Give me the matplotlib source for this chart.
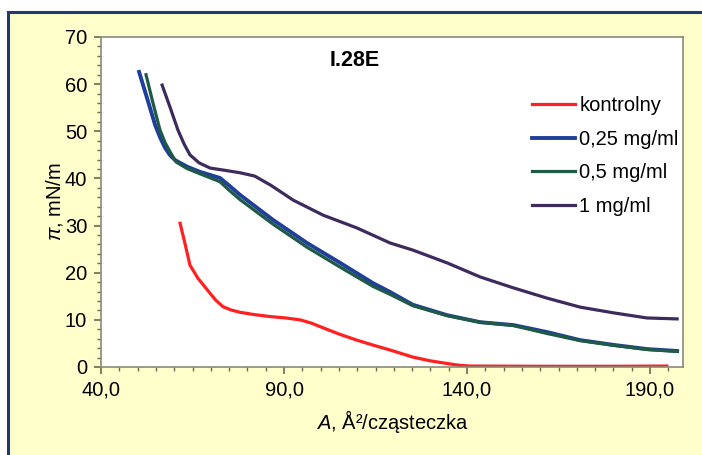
import matplotlib
matplotlib.use("Agg")
import matplotlib.pyplot as plt
from matplotlib.patches import Rectangle
from matplotlib.ticker import MultipleLocator

plt.rcParams['font.family'] = ['Liberation Sans', 'DejaVu Sans']
plt.rcParams['mathtext.fontset'] = 'custom'
plt.rcParams['mathtext.it'] = 'Liberation Sans:italic'

x_ticks = [40, 90, 140, 190]
x_ticklabels = ['40,0', '90,0', '140,0', '190,0']

# kontrolny
x_ctrl = [61.6, 63.0, 64.3, 66.5, 69.0, 71.2, 73.3, 75.5, 78.0, 82.0, 86.2, 90.5, 94.4, 97.5, 100.7,
          105.0, 109.9, 114.5, 119.0, 125.2, 130.0, 134.5, 138.0, 140.8, 160.0, 180.0, 194.6]
y_ctrl = [30.5, 26.0, 21.6, 18.8, 16.4, 14.3, 12.8, 12.1, 11.6, 11.1, 10.7, 10.4, 10.0, 9.3, 8.3,
          7.0, 5.7, 4.6, 3.6, 2.1, 1.3, 0.75, 0.35, 0.2, 0.15, 0.15, 0.2]

# 0,25 mg/ml
x_025 = [50.4, 52.6, 54.8, 56.2, 57.5, 58.8, 60.2, 63.5, 67.0, 72.5, 75.0, 78.0, 87.0, 96.3, 105.3,
         114.3, 119.0, 125.2, 134.5, 143.6, 152.6, 157.0, 161.9, 170.9, 179.9, 189.2, 197.4]
y_025 = [62.6, 57.0, 51.3, 48.6, 46.5, 45.0, 43.9, 42.5, 41.4, 40.1, 38.5, 36.5, 31.2, 26.3, 22.1,
         17.8, 15.9, 13.2, 11.0, 9.5, 8.9, 8.2, 7.4, 5.7, 4.7, 3.8, 3.4]

# 0,5 mg/ml
x_05 = [52.3, 54.2, 56.1, 57.5, 58.9, 60.5, 63.5, 67.0, 72.5, 75.0, 78.0, 87.0, 96.3, 105.3,
        114.3, 119.0, 125.2, 134.5, 143.6, 152.6, 157.0, 161.9, 170.9, 179.9, 189.2, 197.4]
y_05 = [62.0, 56.0, 50.3, 47.6, 45.6, 43.5, 42.1, 41.0, 39.3, 37.5, 35.5, 30.3, 25.4, 21.2,
        17.1, 15.4, 13.0, 10.9, 9.5, 8.8, 8.0, 7.1, 5.6, 4.6, 3.7, 3.3]

# 1 mg/ml
x_1 = [56.7, 59.0, 61.0, 62.7, 64.3, 66.8, 69.8, 74.0, 78.0, 82.0, 86.5, 92.5, 100.7, 109.9,
       119.0, 125.2, 134.5, 143.6, 152.6, 161.9, 170.9, 179.9, 189.2, 197.4]
y_1 = [59.8, 54.8, 50.3, 47.3, 45.0, 43.3, 42.2, 41.7, 41.2, 40.5, 38.5, 35.4, 32.2, 29.5,
       26.3, 24.8, 22.1, 19.1, 16.8, 14.6, 12.7, 11.5, 10.4, 10.2]

fig = plt.figure(figsize=(7.02, 4.55), dpi=100)
fig.patch.set_facecolor('white')

# yellow panel with blue frame
fig.patches.append(Rectangle((7.5 / 702, -0.05), 1.0, 0.05 + 1 - 12 / 455,
                             transform=fig.transFigure, facecolor='#ffffcc',
                             edgecolor='#1f3a6b', linewidth=2.2, zorder=-1))

ax = fig.add_axes([101 / 702, 1 - 367 / 455, 582 / 702, 330 / 455])
ax.set_facecolor('white')

ax.plot(x_ctrl, y_ctrl, color='#ff2020', lw=2.3, label='kontrolny')
ax.plot(x_025, y_025, color='#1f3f9a', lw=2.8, label='0,25 mg/ml')
ax.plot(x_05, y_05, color='#1e5a46', lw=2.3, label='0,5 mg/ml')
ax.plot(x_1, y_1, color='#3e2b5e', lw=2.3, label='1 mg/ml')

ax.set_xlim(40, 199)
ax.set_ylim(0, 70)
ax.set_xticks(x_ticks)
ax.set_xticklabels(x_ticklabels)
ax.xaxis.set_minor_locator(MultipleLocator(5))
ax.yaxis.set_major_locator(MultipleLocator(10))
ax.yaxis.set_minor_locator(MultipleLocator(2))

for s in ax.spines.values():
    s.set_color('#8a8a7a')
    s.set_linewidth(1.2)
ax.tick_params(which='both', direction='out', colors='#6b6b50', labelcolor='black',
               labelsize=14.5)
ax.tick_params(which='major', length=5, width=1.2, pad=5)
ax.tick_params(which='minor', length=3, width=1)

ax.set_xlabel(r'$A$, Å²/cząsteczka', fontsize=14.5, labelpad=6)
ax.set_ylabel(r'$\pi$, mN/m', fontsize=14.5, labelpad=0)

ax.text(0.436, 0.93, 'I.28E', transform=ax.transAxes, ha='center', va='center',
        fontsize=15.5, fontweight='bold')

ax.legend(loc='upper left', bbox_to_anchor=(0.7405, 0.82), frameon=False,
          fontsize=14.5, handlelength=2.15, handletextpad=0.2, labelspacing=0.72,
          borderpad=0, borderaxespad=0)

fig.savefig('out.png', dpi=100, facecolor=fig.get_facecolor())
